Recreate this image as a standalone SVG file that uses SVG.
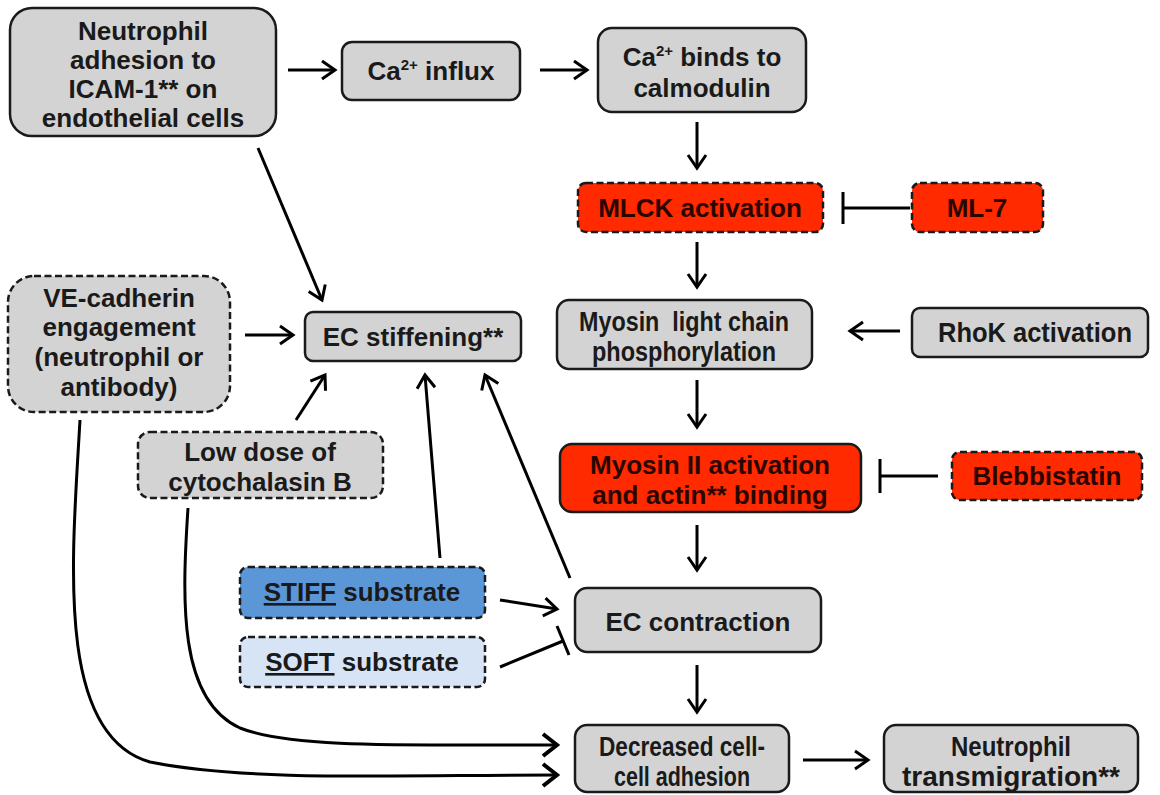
<svg xmlns="http://www.w3.org/2000/svg" width="1160" height="795" viewBox="0 0 1160 795">
<defs>
<style>
.box{fill:#d3d3d3;stroke:#1a1a1a;stroke-width:2.5}
.dash{stroke-dasharray:7 3.5}
.red{fill:#ff2a00}
.stiff{fill:#5b96d7}
.soft{fill:#d6e4f6}
.t{font-family:"Liberation Sans",Arial,sans-serif;font-weight:bold;font-size:26px;text-anchor:middle;fill:#1a1a1a}
.n{font-size:28px}
.tr{fill:#2a0500}
.ln{fill:none;stroke:#000;stroke-width:3}
.arr{marker-end:url(#ah)}
.arrb{marker-end:url(#ahb)}
</style>
<marker id="ah" markerUnits="userSpaceOnUse" markerWidth="22" markerHeight="22" viewBox="0 0 22 22" refX="19" refY="11" orient="auto">
<path d="M6,2 L19,11 L6,20" fill="none" stroke="#000" stroke-width="3"/>
</marker>
<marker id="ahb" markerUnits="userSpaceOnUse" markerWidth="24" markerHeight="26" viewBox="0 0 24 26" refX="20" refY="13" orient="auto">
<path d="M6,2 L20,13 L6,24" fill="none" stroke="#000" stroke-width="4"/>
</marker>
</defs>
<rect width="1160" height="795" fill="#fff"/>

<g id="connectors">
<line class="ln arr" x1="288" y1="70" x2="335" y2="70"/>
<line class="ln arr" x1="540" y1="70" x2="587" y2="70"/>
<line class="ln arr" x1="697" y1="122" x2="697" y2="168"/>
<line class="ln arr" x1="697" y1="242" x2="697" y2="287"/>
<line class="ln arr" x1="697" y1="380" x2="697" y2="427"/>
<line class="ln arr" x1="697" y1="525" x2="697" y2="570"/>
<line class="ln arr" x1="697" y1="665" x2="697" y2="712"/>
<line class="ln arr" x1="803" y1="760" x2="868" y2="760"/>
<line class="ln arr" x1="900" y1="331" x2="850" y2="331"/>
<line class="ln" x1="910" y1="208" x2="843" y2="208" stroke-width="4"/>
<line class="ln" x1="843" y1="192" x2="843" y2="224" stroke-width="4"/>
<line class="ln" x1="938" y1="476" x2="880" y2="476" stroke-width="4"/>
<line class="ln" x1="880" y1="459" x2="880" y2="493" stroke-width="4"/>
<line class="ln arr" x1="245" y1="335" x2="293" y2="335"/>
<line class="ln arr" x1="258" y1="148" x2="322" y2="300"/>
<line class="ln arr" x1="296" y1="420" x2="325" y2="375"/>
<line class="ln arr" x1="440" y1="558" x2="425" y2="375"/>
<line class="ln arr" x1="570" y1="578" x2="485" y2="375"/>
<line class="ln arr" x1="500" y1="600" x2="557" y2="609"/>
<line class="ln" x1="500" y1="667" x2="563" y2="641" stroke-width="4.5"/>
<line class="ln" x1="557" y1="626" x2="569" y2="655" stroke-width="4.5"/>
<path class="ln arrb" d="M188,508 C182,600 178,700 240,728 C290,748 400,745 557,745" stroke-width="4"/>
<path class="ln arrb" d="M80,420 C72,560 55,735 150,762 C250,782 400,775 557,775" stroke-width="4"/>
</g>

<g id="n-adhesion">
<rect class="box" x="10" y="8" width="266" height="128" rx="22"/>
<text class="t" x="143" y="40">Neutrophil</text>
<text class="t" x="143" y="69">adhesion to</text>
<text class="t" x="143" y="98">ICAM-1** on</text>
<text class="t" x="143" y="127">endothelial cells</text>
</g>

<g id="n-ca-influx">
<rect class="box" x="342" y="42" width="178" height="58" rx="10"/>
<text class="t" x="431" y="80">Ca<tspan font-size="15" dy="-10">2+</tspan><tspan dy="10"> influx</tspan></text>
</g>

<g id="n-ca-binds">
<rect class="box" x="598" y="28" width="208" height="84" rx="14"/>
<text class="t" x="702" y="66">Ca<tspan font-size="15" dy="-10">2+</tspan><tspan dy="10"> binds to</tspan></text>
<text class="t" x="702" y="97">calmodulin</text>
</g>

<g id="n-mlck">
<rect class="box red dash" x="578" y="183" width="245" height="49" rx="8"/>
<text class="t tr" x="700" y="217">MLCK activation</text>
</g>

<g id="n-ml7">
<rect class="box red dash" x="912" y="183" width="131" height="49" rx="8"/>
<text class="t tr" x="977" y="217">ML-7</text>
</g>

<g id="n-mlc">
<rect class="box" x="557" y="300" width="255" height="69" rx="12"/>
<text class="t n" x="684" y="331" xml:space="preserve" textLength="210" lengthAdjust="spacingAndGlyphs">Myosin  light chain</text>
<text class="t n" x="684" y="361" textLength="184" lengthAdjust="spacingAndGlyphs">phosphorylation</text>
</g>

<g id="n-rhok">
<rect class="box" x="912" y="308" width="236" height="49" rx="8"/>
<text class="t n" x="1035" y="342" textLength="194" lengthAdjust="spacingAndGlyphs">RhoK activation</text>
</g>

<g id="n-myosin2">
<rect class="box red" x="560" y="444" width="301" height="68" rx="12"/>
<text class="t tr" x="710" y="474">Myosin II activation</text>
<text class="t tr" x="710" y="504">and actin** binding</text>
</g>

<g id="n-bleb">
<rect class="box red dash" x="952" y="452" width="190" height="48" rx="8"/>
<text class="t tr" x="1047" y="485">Blebbistatin</text>
</g>

<g id="n-contraction">
<rect class="box" x="575" y="588" width="246" height="64" rx="12"/>
<text class="t" x="698" y="631">EC contraction</text>
</g>

<g id="n-decreased">
<rect class="box" x="575" y="725" width="214" height="67" rx="12"/>
<text class="t n" x="682" y="756" textLength="166" lengthAdjust="spacingAndGlyphs">Decreased cell-</text>
<text class="t n" x="682" y="786" textLength="136" lengthAdjust="spacingAndGlyphs">cell adhesion</text>
</g>

<g id="n-transmigration">
<rect class="box" x="884" y="725" width="254" height="67" rx="12"/>
<text class="t n" x="1011" y="756" textLength="120" lengthAdjust="spacingAndGlyphs">Neutrophil</text>
<text class="t n" x="1011" y="786" textLength="218" lengthAdjust="spacingAndGlyphs">transmigration**</text>
</g>

<g id="n-vecadherin">
<rect class="box dash" x="8" y="276" width="222" height="136" rx="26"/>
<text class="t" x="119" y="307">VE-cadherin</text>
<text class="t" x="119" y="336">engagement</text>
<text class="t" x="119" y="366">(neutrophil or</text>
<text class="t" x="119" y="396">antibody)</text>
</g>

<g id="n-stiffening">
<rect class="box" x="305" y="312" width="216" height="49" rx="8"/>
<text class="t" x="413" y="346">EC stiffening**</text>
</g>

<g id="n-cytochalasin">
<rect class="box dash" x="138" y="432" width="245" height="66" rx="12"/>
<text class="t" x="260" y="461">Low dose of</text>
<text class="t" x="260" y="491">cytochalasin B</text>
</g>

<g id="n-stiff">
<rect class="box stiff dash" x="240" y="567" width="245" height="51" rx="8"/>
<text class="t" x="362" y="601" fill="#15203a"><tspan text-decoration="underline">STIFF</tspan> substrate</text>
</g>

<g id="n-soft">
<rect class="box soft dash" x="240" y="637" width="245" height="50" rx="8"/>
<text class="t" x="362" y="671"><tspan text-decoration="underline">SOFT</tspan> substrate</text>
</g>
</svg>
